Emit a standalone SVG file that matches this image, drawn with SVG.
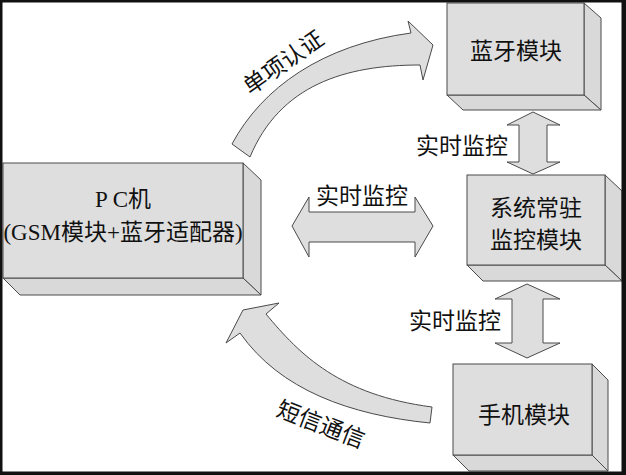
<svg xmlns="http://www.w3.org/2000/svg" width="626" height="475" viewBox="0 0 626 475">
<style>
.front{fill:#dedede;stroke:#4a4a4a;stroke-width:1}
.side{fill:#d9d9d9;stroke:#4a4a4a;stroke-width:1}
.arr{fill:#dedede;stroke:#4a4a4a;stroke-width:1;stroke-linejoin:miter}
text{font-family:"Liberation Serif","Noto Sans CJK SC",serif;font-size:23px;fill:#111;text-anchor:middle}
</style>
<rect width="626" height="475" fill="#fff"/>
<g id="connectors">
<path id="c-auth" class="arr" d="M232,144 C262,88 322,45 411,33 L408,21 L433,45 L423,80 L420,65 C345,65 280,85 250,157 Z"/>
<path id="c-sms" class="arr" d="M430,423 L432,407 C340,395 300,355 266,314 L279,303 L243,310 L226,343 L240,333 C280,390 350,415 430,423 Z"/>
<path id="c-h" class="arr" d="M292,226 L309,197 L309,212 L415,212 L415,197 L433,226 L415,257 L415,242 L309,242 L309,257 Z"/>
<path id="c-v1" class="arr" d="M533,112 L560,125 L547,125 L547,162 L560,162 L533,174 L507,162 L519,162 L519,125 L507,125 Z"/>
<path id="c-v2" class="arr" d="M527,284 L560,299 L543,299 L543,343 L560,343 L527,358 L495,343 L512,343 L512,299 L495,299 Z"/>
<text x="362" y="204">实时监控</text>
<text x="462" y="154">实时监控</text>
<text x="455" y="329">实时监控</text>
<text transform="translate(288,69) rotate(-35)">单项认证</text>
<text transform="translate(318,432) rotate(21)">短信通信</text>
</g>
<g id="pc">
<polygon class="side" points="243,163 261,180 261,295 243,278"/>
<polygon class="side" points="3,278 243,278 261,295 20,295"/>
<rect class="front" x="3" y="163" width="240" height="115"/>
<text x="123" y="207">P C机</text>
<text x="123" y="240">(GSM模块+蓝牙适配器)</text>
</g>
<g id="bluetooth">
<polygon class="side" points="584,3 601,18 601,110 584,95"/>
<polygon class="side" points="447,95 584,95 601,110 463,110"/>
<rect class="front" x="447" y="3" width="137" height="92"/>
<text x="516" y="59">蓝牙模块</text>
</g>
<g id="monitor">
<polygon class="side" points="605,175 622,191 622,281 605,265"/>
<polygon class="side" points="467,265 605,265 622,281 483,281"/>
<rect class="front" x="467" y="175" width="138" height="90"/>
<text x="536" y="216">系统常驻</text>
<text x="536" y="248">监控模块</text>
</g>
<g id="phone">
<polygon class="side" points="592,364 608,380 608,471 592,455"/>
<polygon class="side" points="453,455 592,455 608,471 469,471"/>
<rect class="front" x="453" y="364" width="139" height="91"/>
<text x="524" y="423">手机模块</text>
</g>
<path id="frame" fill="#111" fill-rule="evenodd" d="M0,0 H626 V475 H0 Z M2.5,2.5 V471.5 H621.5 V2.5 Z"/>
</svg>
